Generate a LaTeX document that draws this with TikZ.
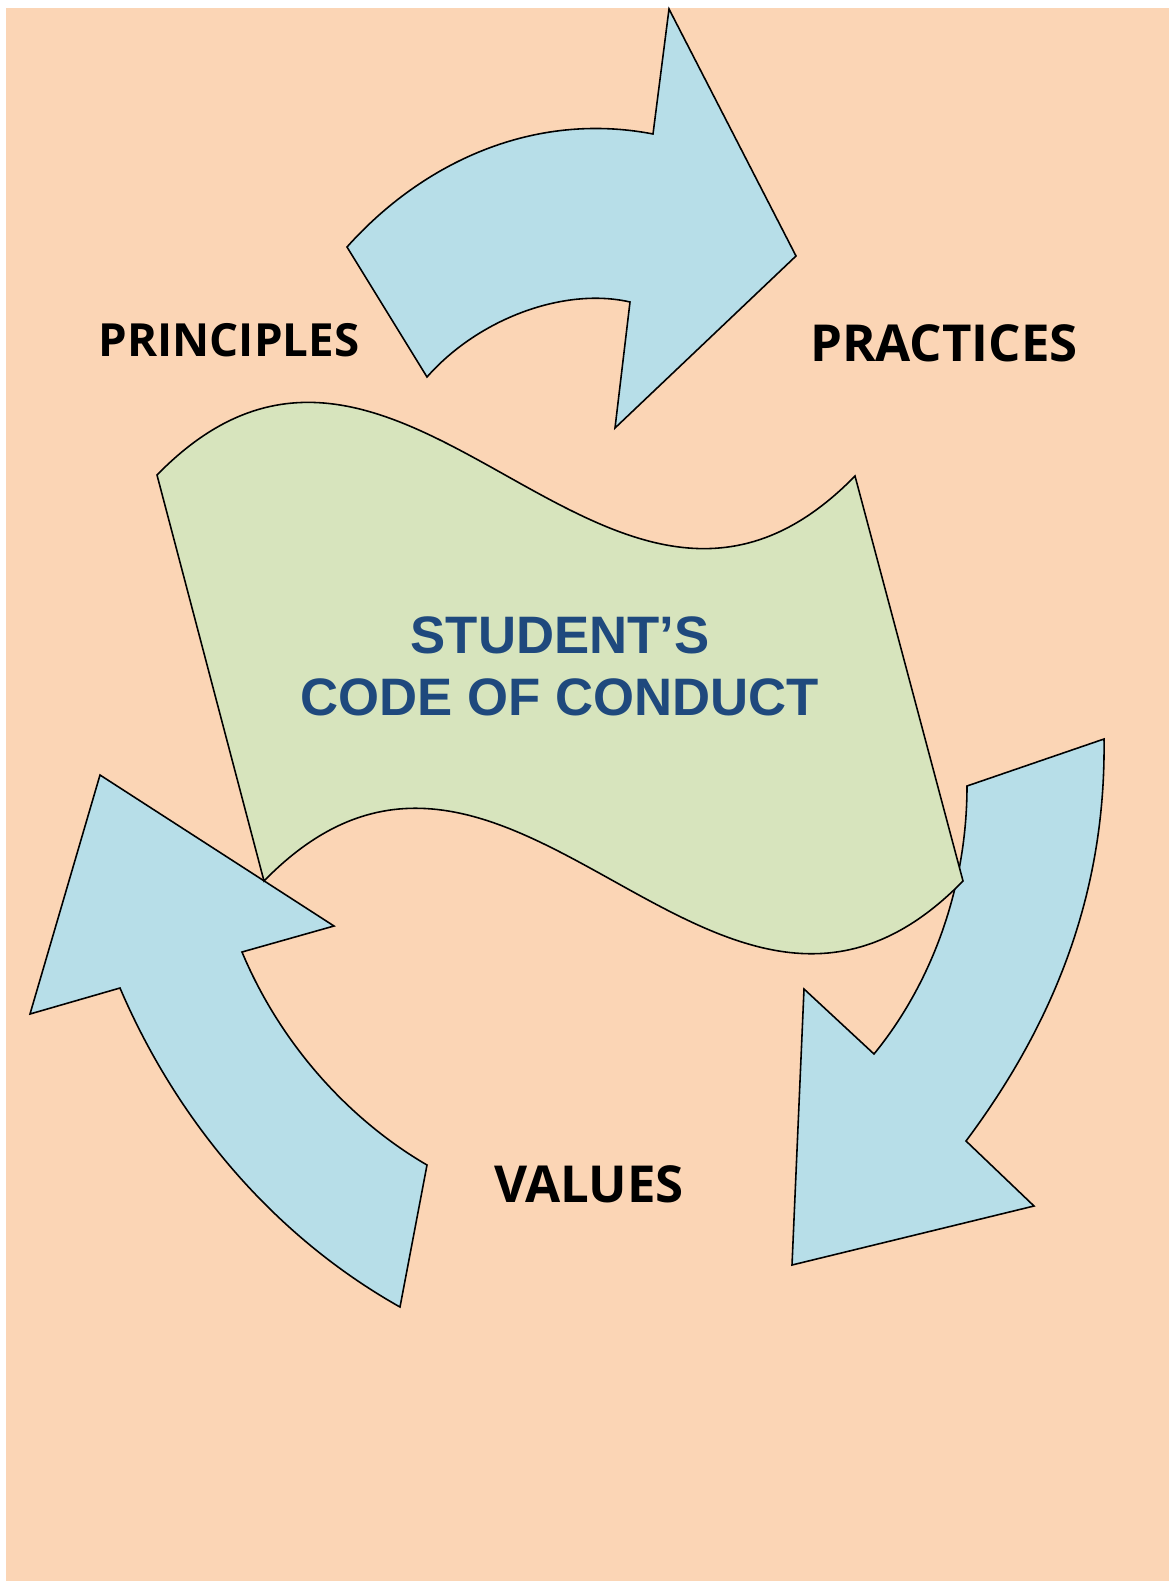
\documentclass[tikz,border=0pt]{standalone}
\usepackage{fontspec}
\setmainfont{Open Sans}
\newfontfamily\arialfont{Liberation Sans}
\definecolor{peach}{RGB}{251,213,181}
\definecolor{lightblue}{RGB}{183,222,232}
\definecolor{lightgreen}{RGB}{215,228,189}
\definecolor{darkblue}{RGB}{31,73,125}

\begin{document}
\begin{tikzpicture}
	[x=0.02cm, y=-0.02cm, line join=miter,
	arrowshape/.style={draw,fill=lightblue,line width=0.9pt},
	flagshape/.style={draw,fill=lightgreen,line width=0.9pt},
	steplabel/.style={anchor=base,inner sep=0pt,font=\bfseries\fontsize{29}{34}\selectfont},
	codelabel/.style={anchor=base,inner sep=0pt,text=darkblue,font=\arialfont\bfseries\fontsize{30}{35}\selectfont}]
	\useasboundingbox (0,0) rectangle (1169,1581);
	\fill[peach] (6,8) rectangle (1169,1581);
	% principles -> practices
	\draw[arrowshape] (347,247) .. controls (423,162) and (534,111) .. (653,134)
		-- (669,9) -- (796,256) -- (615,428) -- (630,302)
		.. controls (565,287) and (479,318) .. (427,377) -- cycle;
	% practices -> values
	\draw[arrowshape] (967,786) -- (1104,739)
		.. controls (1106,887) and (1058,1018) .. (966,1141)
		-- (1034,1206) -- (792,1265) -- (804,989) -- (874,1054)
		.. controls (932,983) and (967,887) .. cycle;
	% values -> principles
	\draw[arrowshape] (400,1307) -- (427,1165)
		.. controls (348,1119) and (280,1043) .. (242,952)
		-- (334,926) -- (100,775) -- (30,1014) -- (120,988)
		.. controls (176,1119) and (272,1235) .. cycle;
	% the code
	\draw[flagshape] (157,475) .. controls (403,223) and (609,728) .. (855,476)
		-- (963,881) .. controls (717,1133) and (510,629) .. (264,881) -- cycle;
	\node (student) [codelabel] at (560,653) {STUDENT’S};
	\node (conduct) [codelabel] at (560,715) {CODE OF CONDUCT};
	\node (principles) [steplabel,font=\bfseries\fontsize{26}{31}\selectfont] at (229,357) {PRINCIPLES};
	\node (practices) [steplabel] at (944,361) {PRACTICES};
	\node (values) [steplabel] at (589,1202) {VALUES};
\end{tikzpicture}
\end{document}
